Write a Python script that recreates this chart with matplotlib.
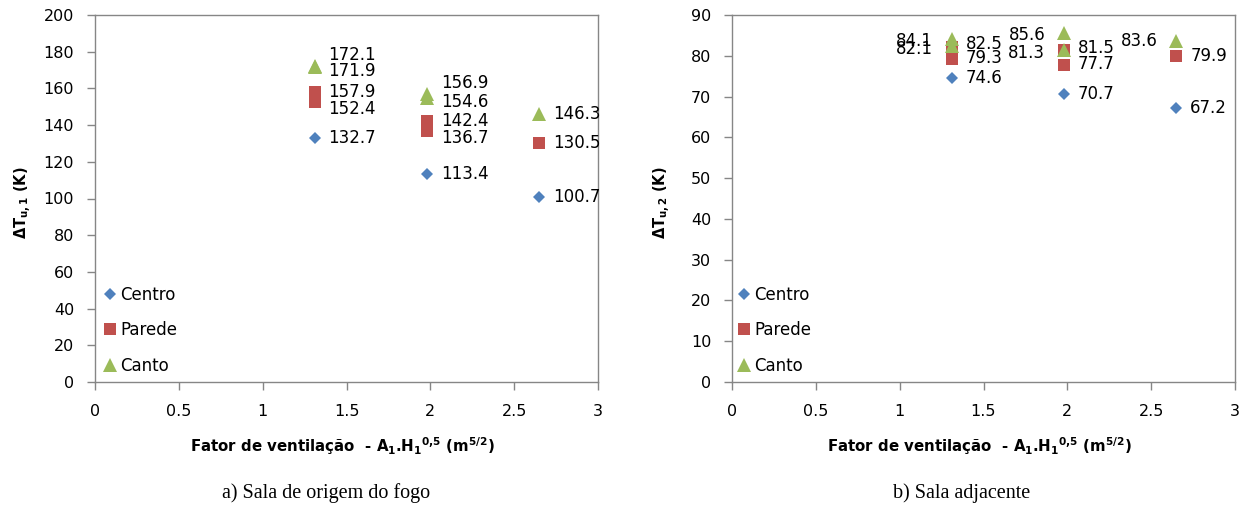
import matplotlib
matplotlib.use("Agg")
import matplotlib.pyplot as plt

# Ventilation factor A1*H1^0.5 (m^5/2)
x_vent = [1.31, 1.98, 2.65]

# Room of fire origin: upper-layer temperature rise (K)
centro_1 = [[132.7], [113.4], [100.7]]
parede_1 = [[157.9, 152.4], [142.4, 136.7], [130.5]]
canto_1 = [[172.1, 171.9], [156.9, 154.6], [146.3]]

# Adjacent room: upper-layer temperature rise (K)
centro_2 = [[74.6], [70.7], [67.2]]
parede_2 = [[82.1, 79.3], [81.3, 77.7], [79.9]]
canto_2 = [[84.1, 82.5], [85.6, 81.5], [83.6]]

series_names = ["Centro", "Parede", "Canto"]
xticks = [0, 0.5, 1, 1.5, 2, 2.5, 3]
xtick_labels = ["0", "0.5", "1", "1.5", "2", "2.5", "3"]
captions = ["a) Sala de origem do fogo", "b) Sala adjacente"]

colors = {"Centro": "#4F81BD", "Parede": "#C0504D", "Canto": "#9BBB59"}
markers = {"Centro": ("D", 6.2), "Parede": ("s", 9), "Canto": ("^", 10)}
spine_col = "#868686"

plt.rcParams["font.family"] = ["DejaVu Sans"]
plt.rcParams["mathtext.fontset"] = "dejavusans"

fig = plt.figure(figsize=(12.44, 5.08), dpi=100)
ax1 = fig.add_axes([95 / 1244, 1 - 382 / 508, 503 / 1244, 367 / 508])
ax2 = fig.add_axes([732 / 1244, 1 - 382 / 508, 503 / 1244, 367 / 508])


def flatten(vals):
    xs, ys = [], []
    for x, group in zip(x_vent, vals):
        for v in group:
            xs.append(x)
            ys.append(v)
    return xs, ys


def style_axes(ax, ymax, ystep, ylabel, ylabel_x):
    ax.set_xlim(0, 3)
    ax.set_ylim(0, ymax)
    ax.set_xticks(xticks)
    ax.set_xticklabels(xtick_labels)
    ax.set_yticks(range(0, ymax + 1, ystep))
    for sp in ax.spines.values():
        sp.set_color(spine_col)
        sp.set_linewidth(1.0)
    ax.tick_params(axis="both", direction="out", length=6, width=1.0,
                   color=spine_col, labelsize=11.5, labelcolor="black")
    ax.tick_params(axis="y", pad=9)
    ax.tick_params(axis="x", pad=10)
    ax.set_xlabel(r"Fator de ventilação  - A$_{\mathbf{1}}$.H$_{\mathbf{1}}$$^{\mathbf{0{,}5}}$ (m$^{\mathbf{5/2}}$)",
                  fontsize=10.8, fontweight="bold")
    ax.xaxis.set_label_coords(0.492, -0.144)
    ax.set_ylabel(ylabel, fontsize=10.5, fontweight="bold")
    ax.yaxis.set_label_coords(ylabel_x, 0.49)


def draw(ax, data, side_rule, shifts, legend_x):
    for name, vals in zip(series_names, data):
        xs, ys = flatten(vals)
        m, ms = markers[name]
        ax.plot(xs, ys, linestyle="none", marker=m, markersize=ms,
                color=colors[name], markeredgewidth=0, label=name)
    for name, vals in zip(series_names, data):
        for x, group in zip(x_vent, vals):
            for i, v in enumerate(group):
                side = side_rule(name, i, len(group))
                dy = shifts.get(name, (0, 0))[i] if len(group) > 1 else 0
                if side == "right":
                    ax.annotate(f"{v:.1f}", (x, v), xytext=(10, dy),
                                textcoords="offset points", ha="left",
                                va="center", fontsize=12)
                else:
                    ax.annotate(f"{v:.1f}", (x, v), xytext=(-13.5, dy),
                                textcoords="offset points", ha="right",
                                va="center", fontsize=12)
    ax.legend(loc="lower left", bbox_to_anchor=(legend_x, -0.012), frameon=False,
              numpoints=1, handlelength=0.8, handletextpad=0.2,
              labelspacing=1.05, fontsize=12, borderaxespad=0.3)


def rule_left(name, i, n):
    return "right"


def rule_right(name, i, n):
    if n > 1:
        return "left" if i == 0 else "right"
    return "left" if name == "Canto" else "right"


draw(ax1, [centro_1, parede_1, canto_1], rule_left,
     {"Canto": (8, -3), "Parede": (0, -5)}, -0.006)
draw(ax2, [centro_2, parede_2, canto_2], rule_right,
     {"Canto": (-1.5, 1), "Parede": (-1.5, 0.5)}, -0.012)

style_axes(ax1, 200, 20, r"$\mathbf{\Delta T_{u,1}}$ (K)", -0.121)
style_axes(ax2, 90, 10, r"$\mathbf{\Delta T_{u,2}}$ (K)", -0.117)

fig.text(326 / 1244, 1 - 493 / 508, captions[0], ha="center", va="center",
         fontsize=14.5, family="Liberation Serif")
fig.text(962 / 1244, 1 - 493 / 508, captions[1], ha="center", va="center",
         fontsize=14.5, family="Liberation Serif")

fig.savefig("out.png", dpi=100, facecolor="white")
